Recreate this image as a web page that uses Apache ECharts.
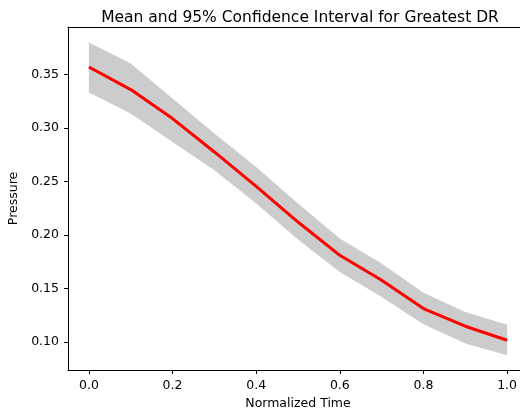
<!DOCTYPE html>
<html>
<head>
<meta charset="utf-8">
<script src="https://cdn.jsdelivr.net/npm/echarts@6/dist/echarts.min.js"></script>
<style>html,body{margin:0;padding:0;background:#fff;overflow:hidden;width:520px;height:414px}#c{width:540px;height:414px}</style>
</head>
<body>
<div id="c"></div>
<script>
const times = [0.0, 0.1, 0.2, 0.3, 0.4, 0.5, 0.6, 0.7, 0.8, 0.9, 1.0];
const meanVals = [0.3568, 0.3357, 0.3086, 0.2774, 0.2453, 0.2119, 0.1808, 0.1575, 0.1310, 0.1145, 0.1014];
const upperVals = [0.3796, 0.3600, 0.3273, 0.2946, 0.2633, 0.2292, 0.1964, 0.1731, 0.1457, 0.1278, 0.1160];
const lowerVals = [0.3329, 0.3133, 0.2867, 0.2603, 0.2292, 0.1955, 0.1652, 0.1419, 0.1164, 0.0983, 0.0874];
const xTicks = [0.0, 0.2, 0.4, 0.6, 0.8, 1.0];
const yTicks = [0.10, 0.15, 0.20, 0.25, 0.30, 0.35];

const font = 'DejaVu Sans';
const spine = {show: true, onZero: false, lineStyle: {color: '#000', width: 1}};
const chart = echarts.init(document.getElementById('c'), null, {renderer: 'canvas'});
chart.setOption({
  animation: false,
  backgroundColor: '#fff',
  title: {
    text: 'Mean and 95% Confidence Interval for Greatest DR',
    left: 295, top: 5, textAlign: 'center',
    textStyle: {fontFamily: font, fontSize: 15.5, fontWeight: 'normal', color: '#000'}
  },
  grid: {left: 68, top: 27, width: 460, bottom: 44, outerBoundsMode: 'none', containLabel: false, show: false},
  xAxis: [{
    type: 'value', min: -0.05, max: 1.05,
    name: 'Normalized Time', nameLocation: 'middle', nameGap: 27,
    nameTextStyle: {fontFamily: font, fontSize: 12.5, color: '#000'},
    axisLine: spine,
    splitLine: {show: false},
    axisTick: {show: true, length: 4, lineStyle: {color: '#000'}, customValues: xTicks},
    axisLabel: {fontFamily: font, fontSize: 12.5, color: '#000', margin: 9, customValues: xTicks,
      formatter: v => v.toFixed(1)}
  }, {
    type: 'value', position: 'top', min: -0.05, max: 1.05,
    axisLine: spine, axisTick: {show: false}, axisLabel: {show: false}, splitLine: {show: false}
  }],
  yAxis: {
    type: 'value', min: 0.0736, max: 0.3942,
    name: 'Pressure', nameLocation: 'middle', nameGap: 41,
    nameTextStyle: {fontFamily: font, fontSize: 12.5, color: '#000'},
    axisLine: spine,
    splitLine: {show: false},
    axisTick: {show: true, length: 4, lineStyle: {color: '#000'}, customValues: yTicks},
    axisLabel: {fontFamily: font, fontSize: 12.5, color: '#000', margin: 9, customValues: yTicks,
      formatter: v => v.toFixed(2)}
  },
  series: [
    {
      type: 'custom', silent: true, z: 1,
      data: [0],
      renderItem: function (params, api) {
        const pts = [];
        for (let i = 0; i < times.length; i++) pts.push(api.coord([times[i], upperVals[i]]));
        for (let i = times.length - 1; i >= 0; i--) pts.push(api.coord([times[i], lowerVals[i]]));
        return {type: 'polygon', shape: {points: pts}, style: {fill: '#cccccc', stroke: null}};
      }
    },
    {
      type: 'line', symbol: 'none', z: 3,
      data: times.map((t, i) => [t, meanVals[i]]),
      lineStyle: {color: '#ff0000', width: 3}
    }
  ]
});
</script>
</body>
</html>
